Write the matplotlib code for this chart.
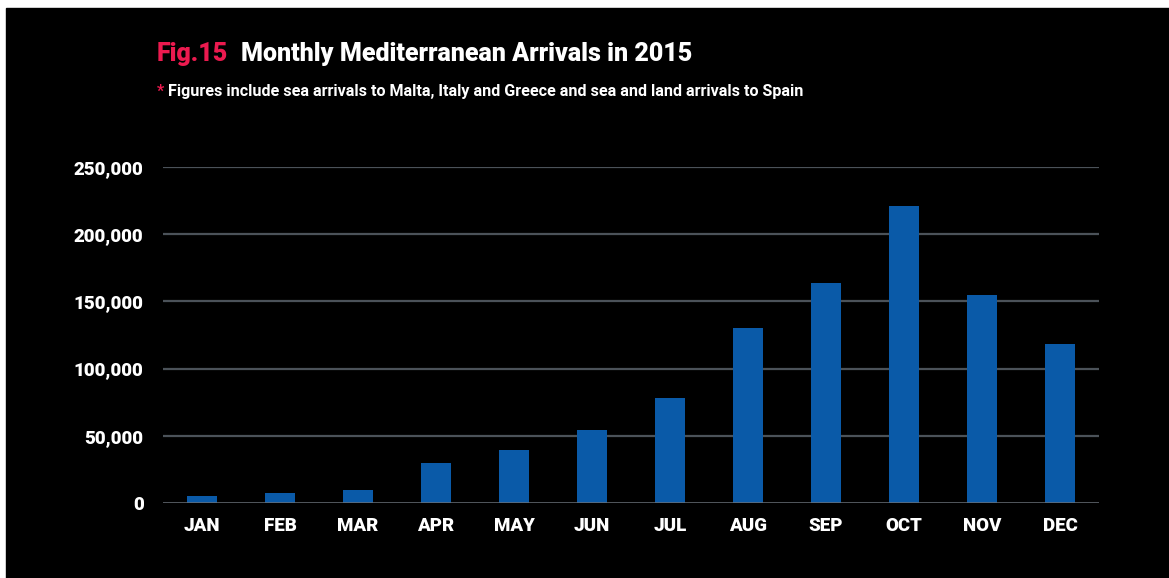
import matplotlib
matplotlib.use("Agg")
import matplotlib.pyplot as plt
from matplotlib.patches import Rectangle

# Monthly arrivals
months = ["JAN", "FEB", "MAR", "APR", "MAY", "JUN",
          "JUL", "AUG", "SEP", "OCT", "NOV", "DEC"]
arrivals = [5500, 7200, 10000, 29500, 39500, 54000,
            78000, 130500, 163500, 221000, 155000, 118000]
yticks = [0, 50000, 100000, 150000, 200000, 250000]
ytick_labels = ["0", "50,000", "100,000", "150,000", "200,000", "250,000"]

BAR_BLUE = "#0a5aa8"
GRID_GREY = "#4b5259"
RED = "#ec1a4f"

plt.rcParams["font.family"] = ["Roboto", "DejaVu Sans"]
plt.rcParams["font.weight"] = "heavy"

fig = plt.figure(figsize=(11.69, 5.78), dpi=100)
fig.patch.set_facecolor("white")
# black panel, with thin white margin top and left like the source image
bg = Rectangle((6 / 1169, 0), 1, 1 - 8 / 578,
               transform=fig.transFigure, color="black", zorder=-10)
fig.add_artist(bg)

ax = fig.add_axes([163 / 1169, 1 - 503 / 578, 936 / 1169, 336 / 578])
ax.set_facecolor("black")

x = range(len(months))
ax.bar(x, arrivals, width=0.39, color=BAR_BLUE, zorder=3)

ax.set_xlim(-0.5, len(months) - 0.5)
ax.set_ylim(0, 250000)
ax.set_yticks(yticks)
ax.set_yticklabels(ytick_labels)
ax.set_xticks(list(x))
ax.set_xticklabels(months)

for s in ax.spines.values():
    s.set_visible(False)
for v in yticks[1:]:
    ax.axhline(v, color=GRID_GREY, lw=1.6, zorder=1)
ax.axhline(0, color="#6a7078", lw=1.8, zorder=4)

ax.tick_params(axis="both", length=0, colors="white", labelsize=13.5)
ax.tick_params(axis="y", pad=14)
ax.tick_params(axis="x", pad=10)

fig.text(157 / 1169, 1 - 61 / 578, "Fig.15", color=RED, fontsize=18,
         va="baseline")
fig.text(241 / 1169, 1 - 61 / 578, "Monthly Mediterranean Arrivals in 2015",
         color="white", fontsize=18, va="baseline")
fig.text(157 / 1169, 1 - 96 / 578, "*", color=RED, fontsize=11.6,
         fontweight="bold", va="baseline")
fig.text(168 / 1169, 1 - 96 / 578,
         "Figures include sea arrivals to Malta, Italy and Greece and sea and land arrivals to Spain",
         color="white", fontsize=11.6, fontweight="bold", va="baseline")

fig.savefig("out.png", dpi=100, facecolor=fig.get_facecolor())
